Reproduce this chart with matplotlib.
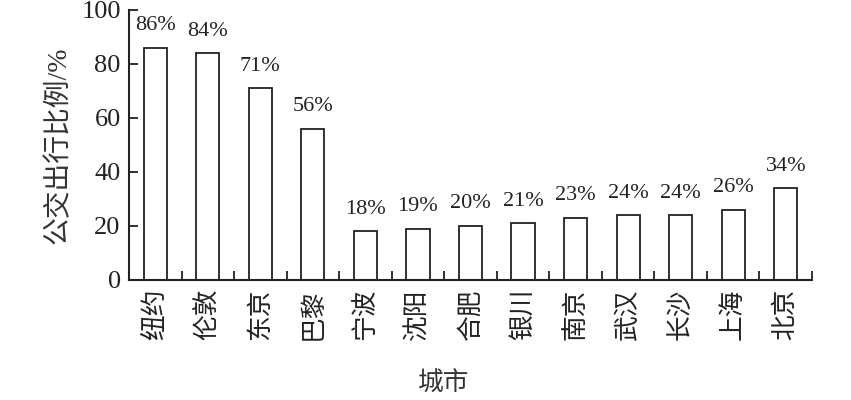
import matplotlib
matplotlib.use('Agg')
import matplotlib.pyplot as plt
import numpy as np

plt.rcParams['font.family'] = ['Liberation Serif', 'Noto Sans CJK SC', 'DejaVu Sans']

# 城市和公交出行比例
cities = ['纽约', '伦敦', '东京', '巴黎', '宁波', '沈阳', '合肥',
          '银川', '南京', '武汉', '长沙', '上海', '北京']
ratios = [86, 84, 71, 56, 18, 19, 20, 21, 23, 24, 24, 26, 34]
y_ticks = [0, 20, 40, 60, 80, 100]

fig = plt.figure(figsize=(8.51, 4), dpi=100)
ax = fig.add_axes([0.1516, 0.3, 0.8026, 0.675])

x = np.arange(len(cities))
ax.bar(x, ratios, width=0.44, color='white', edgecolor='#222222', linewidth=1.3)

for xi, v in zip(x, ratios):
    ax.annotate(f'{v}%', (xi, v), xytext=(0, 9), textcoords='offset points',
                ha='center', va='bottom', fontsize=16, color='#222222')

ax.set_xlim(-0.5, len(cities) - 0.5)
ax.set_ylim(0, 100)
ax.set_yticks(y_ticks)
ax.set_xticks(x)
ax.set_xticklabels(cities, rotation=90, fontsize=18.5, color='#222222')
ax.set_xticks(np.arange(0.5, len(cities), 1), minor=True)
ax.tick_params(axis='x', which='major', length=0, pad=6)
ax.tick_params(axis='x', which='minor', direction='in', length=6.5, width=1.3, color='#222222')
ax.tick_params(axis='y', direction='in', length=6.5, width=1.3, labelsize=19,
               pad=6, color='#222222', labelcolor='#222222')

for side in ['top', 'right']:
    ax.spines[side].set_visible(False)
for side in ['left', 'bottom']:
    ax.spines[side].set_linewidth(1.5)
    ax.spines[side].set_color('#222222')

ax.set_ylabel('公交出行比例/%', fontsize=20, color='#333333', labelpad=7)
ax.set_xlabel('城市', fontsize=18.5, color='#333333')
ax.xaxis.set_label_coords(0.461, -0.34)

fig.savefig('out.png', dpi=100)
